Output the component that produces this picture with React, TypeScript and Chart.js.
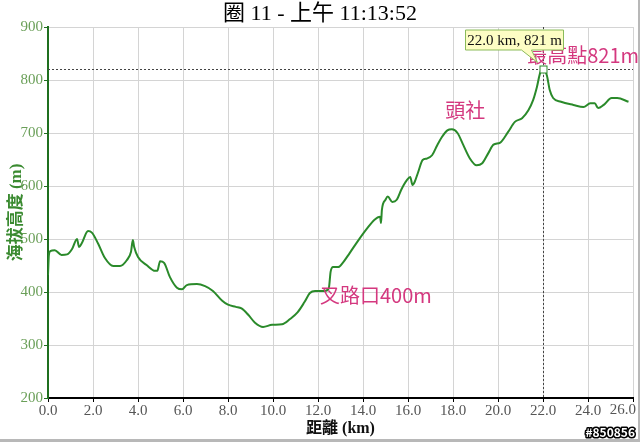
import React, { useEffect, useRef } from "react";
import { Chart, registerables } from "chart.js";

Chart.register(...registerables);

const distKm = [0, 0.04, 0.1, 0.3, 0.6, 0.85, 1.07, 1.29, 1.38, 1.5, 1.78, 1.95, 2.22, 2.53, 2.9, 3.2, 3.5, 3.69, 3.77, 3.83, 4.0, 4.38, 4.76, 4.86, 4.98, 5.16, 5.42, 5.73, 5.96, 6.17, 6.62, 6.98, 7.33, 7.73, 8.0, 8.35, 8.6, 8.9, 9.2, 9.56, 9.96, 10.4, 10.76, 11.1, 11.4, 11.64, 11.87, 12.3, 12.48, 12.56, 12.67, 12.9, 13.1, 13.4, 13.8, 14.2, 14.5, 14.76, 14.8, 14.84, 15.0, 15.1, 15.3, 15.5, 15.7, 15.95, 16.1, 16.2, 16.3, 16.45, 16.65, 16.85, 17.07, 17.3, 17.5, 17.75, 17.95, 18.2, 18.45, 18.75, 19.05, 19.3, 19.57, 19.8, 20.1, 20.45, 20.75, 21.07, 21.35, 21.56, 21.73, 21.87, 22.0, 22.17, 22.3, 22.45, 22.8, 23.35, 23.8, 24.1, 24.3, 24.45, 24.7, 25.05, 25.3, 25.8];
const elevM = [432, 470, 477, 479, 470, 471, 481, 500, 485, 492, 515, 512, 492, 464, 449, 449, 460, 476, 498, 485, 466, 451, 440, 440, 458, 455, 428, 408, 405, 413, 415, 411, 402, 384, 376, 372, 369, 357, 342, 334, 338, 339, 349, 362, 381, 398, 402, 402, 407, 438, 447, 447, 455, 473, 498, 521, 536, 542, 530, 555, 574, 580, 570, 574, 593, 611, 617, 602, 608, 626, 649, 652, 658, 677, 692, 705, 707, 700, 678, 652, 639, 643, 662, 678, 682, 702, 721, 728, 743, 762, 787, 813, 821, 809, 781, 766, 759, 753, 749, 756, 756, 747, 753, 766, 766, 759];

const titleText = "圈 11 - 上午 11:13:52";
const xTitle = "距離 (km)";
const yTitle = "海拔高度 (m)";
const xMaxKm = 26;
const annoLabels = ["叉路口400m", "頭社", "最高點821m"];
const annoKm = [12.09, 17.65, 21.3];
const annoElev = [394, 743, 847];
const peakKm = 22.0;
const peakElev = 821;
const tooltipText = "22.0 km, 821 m";
const watermark = "#850856";

const SERIF = "'Liberation Serif', 'Noto Sans CJK TC', serif";
const SANS = "'Noto Sans CJK TC', 'Noto Sans', sans-serif";

const overlayPlugin = {
  id: "overlay",
  afterDraw(chart: any) {
    const ctx = chart.ctx as CanvasRenderingContext2D;
    const xs = chart.scales.x;
    const ys = chart.scales.y;
    const area = chart.chartArea;
    ctx.save();
    // title
    ctx.fillStyle = "#000";
    ctx.font = `22px ${SERIF}`;
    ctx.textAlign = "center";
    ctx.textBaseline = "middle";
    ctx.fillText(titleText, 320, 14);

    // last x tick label kept inside the frame
    ctx.fillStyle = "#555";
    ctx.font = `15px ${SERIF}`;
    ctx.textAlign = "right";
    ctx.textBaseline = "top";
    ctx.fillText(xMaxKm.toFixed(1), xs.getPixelForValue(xMaxKm) + 3, area.bottom + 5);

    // dotted guide lines
    const px = Math.round(xs.getPixelForValue(peakKm)) + 0.5;
    const py = Math.round(ys.getPixelForValue(peakElev)) + 0.5;
    ctx.strokeStyle = "#444";
    ctx.lineWidth = 1;
    ctx.setLineDash([2, 2]);
    ctx.beginPath();
    ctx.moveTo(area.left, py);
    ctx.lineTo(area.right, py);
    ctx.moveTo(px, area.top);
    ctx.lineTo(px, area.bottom);
    ctx.stroke();
    ctx.setLineDash([]);

    // peak marker
    ctx.fillStyle = "#fff";
    ctx.strokeStyle = "#2a8a2a";
    ctx.fillRect(px - 3.5, py - 3.5, 7, 7);
    ctx.strokeRect(px - 3.5, py - 3.5, 7, 7);

    // annotation labels
    ctx.fillStyle = "#d4387f";
    ctx.font = `20px ${SANS}`;
    ctx.textAlign = "left";
    ctx.textBaseline = "middle";
    for (let i = 0; i < annoLabels.length; i++) {
      ctx.fillText(annoLabels[i], xs.getPixelForValue(annoKm[i]), ys.getPixelForValue(annoElev[i]));
    }

    // tooltip box
    const bx = px - 78;
    const by = py - 39.5;
    const bw = 98;
    const bh = 20;
    ctx.fillStyle = "#fdfdc4";
    ctx.strokeStyle = "#8bbb5a";
    ctx.lineWidth = 1;
    ctx.beginPath();
    ctx.moveTo(bx, by);
    ctx.lineTo(bx + bw, by);
    ctx.lineTo(bx + bw, by + bh);
    ctx.lineTo(bx + 66, by + bh);
    ctx.lineTo(px - 6, py - 7);
    ctx.lineTo(bx + 56, by + bh);
    ctx.lineTo(bx, by + bh);
    ctx.closePath();
    ctx.fill();
    ctx.stroke();
    ctx.fillStyle = "#111";
    ctx.font = `15px ${SERIF}`;
    ctx.textAlign = "center";
    ctx.textBaseline = "middle";
    ctx.fillText(tooltipText, bx + bw / 2, by + bh / 2 + 1);

    // frame
    ctx.fillStyle = "#b8b8b8";
    ctx.fillRect(638, 0, 2, 442);
    ctx.fillRect(0, 439, 640, 3);

    // watermark
    ctx.font = `bold 12px ${SANS}`;
    ctx.textAlign = "right";
    ctx.textBaseline = "alphabetic";
    ctx.lineWidth = 3;
    ctx.strokeStyle = "#000";
    ctx.lineJoin = "round";
    ctx.strokeText(watermark, 635, 437);
    ctx.fillStyle = "#fff";
    ctx.fillText(watermark, 635, 437);
    ctx.restore();
  },
};

export default function App() {
  const ref = useRef<HTMLCanvasElement>(null);
  useEffect(() => {
    if (!ref.current) return;
    const chart = new Chart(ref.current, {
      type: "line",
      data: {
        datasets: [
          {
            data: distKm.map((d, i) => ({ x: d, y: elevM[i] })),
            borderColor: "#2a8a2a",
            borderWidth: 2,
            pointRadius: 0,
            fill: false,
            cubicInterpolationMode: "monotone",
          },
        ],
      },
      options: {
        animation: false,
        responsive: false,
        events: [],
        layout: { padding: { top: 27, right: 7, left: 0, bottom: 0 } },
        plugins: { legend: { display: false }, tooltip: { enabled: false }, title: { display: false } },
        scales: {
          x: {
            type: "linear",
            min: 0,
            max: xMaxKm,
            border: { color: "#000", width: 2 },
            grid: { color: "#d4d4d4", lineWidth: 1, tickColor: "#000", tickLength: 4 },
            ticks: {
              stepSize: 2,
              color: "#555",
              padding: 0,
              maxRotation: 0,
              font: { family: SERIF, size: 15 },
              callback: (v: any) => (Number(v) >= xMaxKm ? "" : Number(v).toFixed(1)),
            },
            title: {
              display: true,
              text: xTitle,
              color: "#111",
              font: { family: SERIF, size: 16, weight: "bold" },
              padding: { top: 0, bottom: 4 },
            },
            afterFit: (s: any) => {
              s.height = 44;
              s.paddingLeft = 0;
              s.paddingRight = 0;
            },
          },
          y: {
            min: 200,
            max: 900,
            border: { color: "#1f6f1f", width: 2 },
            grid: { color: "#d4d4d4", lineWidth: 1, tickColor: "#1f6f1f", tickLength: 4 },
            ticks: {
              stepSize: 100,
              color: "#6a9f58",
              padding: 1,
              font: { family: SERIF, size: 15 },
            },
            title: {
              display: true,
              text: yTitle,
              color: "#3a8a30",
              font: { family: SERIF, size: 17, weight: "bold" },
              padding: { top: 6, bottom: 0 },
            },
            afterFit: (s: any) => {
              s.width = 48;
              s.paddingTop = 0;
              s.paddingBottom = 0;
            },
          },
        },
      },
      plugins: [overlayPlugin],
    } as any);
    return () => chart.destroy();
  }, []);
  return (
    <canvas
      ref={ref}
      width={640}
      height={442}
      style={{ position: "absolute", left: 0, top: 0, width: 640, height: 442, display: "block" }}
    />
  );
}
